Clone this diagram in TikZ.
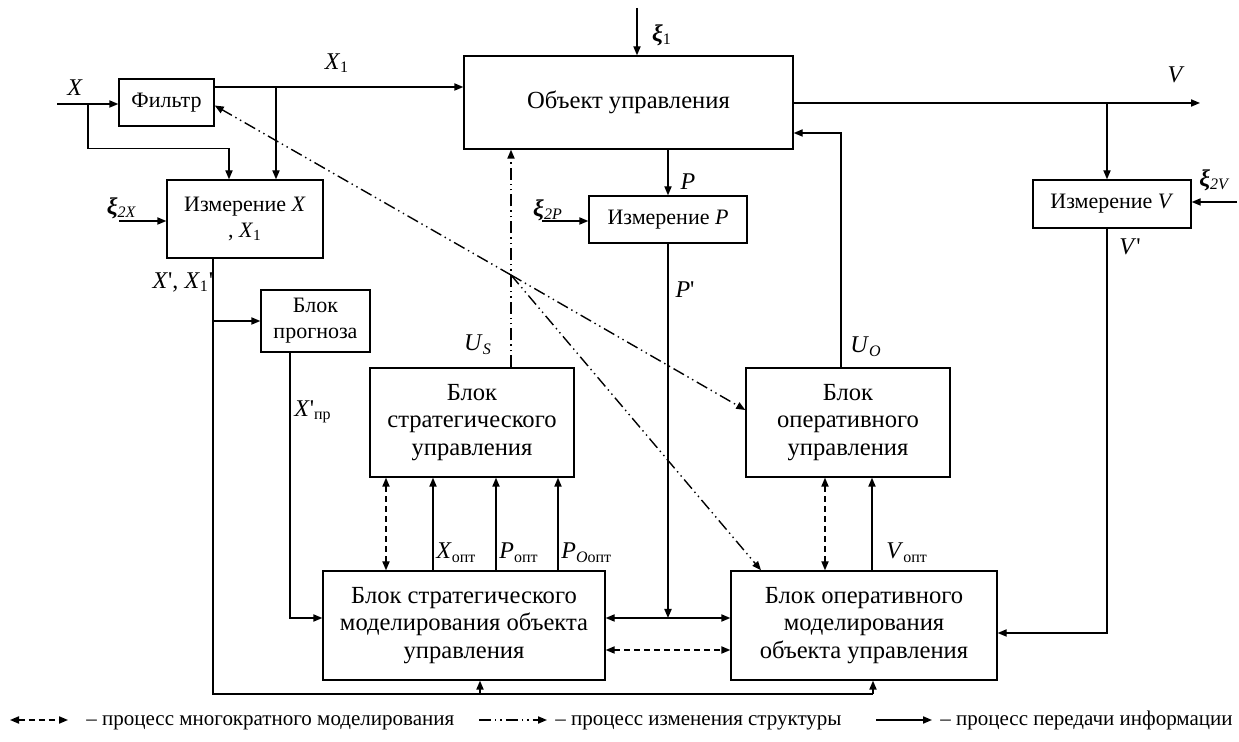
\documentclass[tikz,border=0pt]{standalone}
\usepackage{fontspec}
\setmainfont{Liberation Serif}
\usepackage{tikz}
\usetikzlibrary{arrows.meta}
\usetikzlibrary{positioning}

\newcommand{\xib}{\textbf{\textit{ξ}}}
\newcommand{\pr}{\textquotesingle}

\begin{document}
\begin{tikzpicture}[x=0.5pt,y=-0.5pt]
  \tikzset{blok/.style = {shape=rectangle,draw,line width=0.7pt,align=center,inner sep=1pt,font=\fontsize{12.3}{13.8}\selectfont}}
  \tikzset{sblok/.style = {blok,font=\fontsize{11}{13}\selectfont}}
  \tikzset{lbl/.style = {inner sep=1pt,font=\fontsize{12}{13}\selectfont}}
  \tikzset{legtext/.style = {inner sep=1pt,anchor=base west,font=\fontsize{10.5}{12}\selectfont}}
  \tikzset{%
  tipA/.tip={Triangle[length=4.5pt,width=3.6pt]},
  }
  \tikzset{info/.style = {-tipA,line width=0.7pt}}
  \tikzset{multi/.style = {tipA-tipA,line width=0.7pt,dash pattern=on 3pt off 2pt}}
  \tikzset{struct/.style = {-tipA,line width=0.7pt,dash pattern=on 6pt off 2pt on 0.7pt off 2pt on 0.7pt off 2pt}}

  \useasboundingbox (0,0) rectangle (1239,742);

  % blocks
  \node[sblok,minimum width=47.5pt,minimum height=23.5pt] (filtr) at (166.5,102.5) {Фильтр};
  \node[blok,minimum width=164.5pt,minimum height=46.5pt] (obj) at (628.5,102.5) {Объект управления};
  \node[sblok,minimum width=78pt,minimum height=39pt] (izmX) at (245,219) {Измерение \textit{X}\\, \textit{X}\textsubscript{1}};
  \node[sblok,minimum width=79pt,minimum height=23.5pt] (izmP) at (668,219.5) {Измерение \textit{P}};
  \node[sblok,minimum width=79pt,minimum height=24pt] (izmV) at (1112,204) {Измерение \textit{V}};
  \node[sblok,minimum width=54.5pt,minimum height=31pt] (prog) at (315.5,321) {Блок\\прогноза};
  \node[blok,minimum width=102pt,minimum height=54.5pt] (bsu) at (472,422.5) {Блок\\стратегического\\управления};
  \node[blok,minimum width=102pt,minimum height=54.5pt] (bou) at (848,422.5) {Блок\\оперативного\\управления};
  \node[blok,minimum width=141pt,minimum height=54.5pt] (bsm) at (464,625.5) {Блок стратегического\\моделирования объекта\\управления};
  \node[blok,minimum width=133pt,minimum height=54.5pt] (bom) at (864,625.5) {Блок оперативного\\моделирования\\объекта управления};

  % points
  \coordinate (xin) at (57,104);
  \coordinate (xbr) at (88,104);
  \coordinate (x1br) at (276,87);
  \coordinate (xi1) at (637,8);
  \coordinate (vbr) at (1107,103);
  \coordinate (vend) at (1200,103);
  \coordinate (xi2x) at (119,221);
  \coordinate (xi2p) at (542,221);
  \coordinate (xi2v) at (1237,202);
  \coordinate (pj) at (668,618);
  \coordinate (xd) at (213,258);
  \coordinate (bl) at (213,694);
  \coordinate (bm) at (480,694);
  \coordinate (br) at (873,694);
  \coordinate (J) at (511,275);
  \coordinate (cxo) at (433,553);
  \coordinate (cpo) at (496,553);
  \coordinate (cpoo) at (558,553);
  \coordinate (cvo) at (872,553);

  % information
  \draw[info] (xin) -- (xin -| filtr.west);
  \draw[info] (xbr) |- ([xshift=-8pt,yshift=15.5pt]izmX.north) -- ([xshift=-8pt]izmX.north);
  \draw[info] (filtr.east |- x1br) -- (obj.west |- x1br);
  \draw[info] (x1br) -- (x1br |- izmX.north);
  \draw[info] (xi1) -- (xi1 |- obj.north);
  \draw[info] (obj.east |- vend) -- (vend);
  \draw[info] (vbr) -- (vbr |- izmV.north);
  \draw[info] (xi2v) -- (xi2v -| izmV.east);
  \draw[info] (vbr |- izmV.south) |- ([yshift=-3.75pt]bom.east);
  \draw[info] (izmP.north |- obj.south) -- (izmP.north);
  \draw[info] (xi2p) -- (xi2p -| izmP.west);
  \draw[info] (xi2x) -- (xi2x -| izmX.west);
  \draw[info] (izmP.south) -- (pj);
  \draw[tipA-tipA,line width=0.7pt] (bsm.east |- pj) -- (bom.west |- pj);
  \draw[line width=0.7pt] (xd) -- (bl) -- (br);
  \draw[info] (xd |- prog.west) -- (prog.west);
  \draw[info] (bm) -- (bm |- bsm.south);
  \draw[info] (br) -- (br |- bom.south);
  \draw[info] ([xshift=-12.75pt]prog.south) |- (bsm.west |- pj);
  \foreach \c in {cxo,cpo,cpoo}
    \draw[info] (bsm.north -| \c) -- (bsu.south -| \c);
  \draw[info] (bom.north -| cvo) -- (bou.south -| cvo);
  \draw[info] ([xshift=-3.5pt]bou.north) |- ([yshift=-15.25pt]obj.east);

  % multiple modelling
  \draw[multi] ([xshift=-39pt]bsm.north) -- ([xshift=-39pt]bsm.north |- bsu.south);
  \draw[multi] ([xshift=-19.5pt]bom.north) -- ([xshift=-19.5pt]bom.north |- bou.south);
  \draw[multi] ([yshift=-12.25pt]bsm.east) -- ([yshift=-12.25pt]bsm.east -| bom.west);

  % structure change
  \draw[struct] (bsu.north -| J) -- (obj.south -| J);
  \draw[struct] (J) -- ([yshift=-1.5pt]filtr.east);
  \draw[struct] (J) -- ([yshift=6.25pt]bou.west);
  \draw[struct] (J) -- ([xshift=-51.5pt]bom.north);

  % labels
  \node[lbl] (lx) at (75,88) {\textit{X}};
  \node[lbl] (lx1) at (337,63) {\textit{X}\textsubscript{1}};
  \node[lbl] (lxi1) at (662,35) {\xib\textsubscript{1}};
  \node[lbl] (lv) at (1176,75) {\textit{V}};
  \node[lbl] (lxi2v) at (1215,180) {\xib\textsubscript{\textit{2V}}};
  \node[lbl] (lxi2x) at (122,208) {\xib\textsubscript{\textit{2X}}};
  \node[lbl] (lxi2p) at (548,210) {\xib\textsubscript{\textit{2P}}};
  \node[lbl] (lp) at (688,182) {\textit{P}};
  \node[lbl] (lpp) at (685,290) {\textit{P}\pr};
  \node[lbl] (lvp) at (1130,247) {\textit{V}\pr};
  \node[lbl] (lxx) at (183,282) {\textit{X}\pr, \textit{X}\textsubscript{1}\pr};
  \node[lbl] (lus) at (478,345) {\textit{U}\textsubscript{\textit{S}}};
  \node[lbl] (luo) at (866,347) {\textit{U}\textsubscript{\textit{O}}};
  \node[lbl,anchor=west] (lxpr) at (292,412) {\textit{X}\pr\textsubscript{пр}};
  \node[lbl,anchor=west] (lxo) at ([xshift=0.5pt]cxo) {\textit{X}\textsubscript{опт}};
  \node[lbl,anchor=west] (lpo) at ([xshift=0.5pt]cpo) {\textit{P}\textsubscript{опт}};
  \node[lbl,anchor=west] (lpoo) at ([xshift=0.5pt]cpoo) {\textit{P}\textsubscript{\textit{O}опт}};
  \node[lbl,anchor=west] (lvo) at ([xshift=6pt]cvo) {\textit{V}\textsubscript{опт}};

  % legend
  \coordinate (m1) at (10,720);
  \coordinate (m2) at (68,720);
  \coordinate (s1) at (479,720);
  \coordinate (s2) at (547,720);
  \coordinate (i1) at (876,720);
  \coordinate (i2) at (932,720);
  \draw[multi] (m1) -- (m2);
  \draw[struct] (s1) -- (s2);
  \draw[info] (i1) -- (i2);
  \node[legtext] (tm) at (84,726) {– процесс многократного моделирования};
  \node[legtext] (ts) at (553,726) {– процесс изменения структуры};
  \node[legtext] (ti) at (938,726) {– процесс передачи информации};
\end{tikzpicture}
\end{document}
